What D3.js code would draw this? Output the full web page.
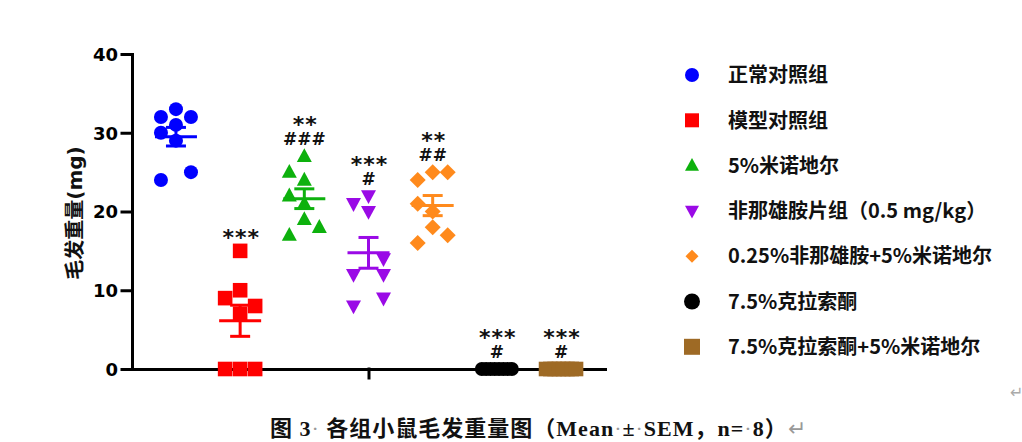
<!DOCTYPE html>
<html>
<head>
<meta charset="utf-8">
<script src="https://cdn.jsdelivr.net/npm/d3@7"></script>
<style>
  body { margin: 0; background: #fff; }
  svg { display: block; }
</style>
</head>
<body>
<div id="chart"></div>
<script>
// groups and hair weight of each mouse (mg)
var groups = ['正常对照组', '模型对照组', '5%米诺地尔', '非那雄胺片组（0.5 mg/kg）',
              '0.25%非那雄胺+5%米诺地尔', '7.5%克拉索酮', '7.5%克拉索酮+5%米诺地尔'];
var normalValues = [32, 33, 32, 31, 30, 29, 24, 25];
var modelValues = [15, 10, 9, 8, 7, 0, 0, 0];
var minoxidilValues = [27, 25, 24, 22, 21, 19, 18, 17];
var finasterideValues = [22, 21, 20, 14, 12, 12, 9, 8];
var comboValues = [25, 25, 24, 21, 20, 18, 17, 16];
var clascoteroneValues = [0, 0, 0, 0, 0, 0, 0, 0];
var clascoteroneMinoxValues = [0, 0, 0, 0, 0, 0, 0, 0];
var starLabels = ['', '***', '**', '***', '**', '***', '***'];
var hashLabels = ['', '', '###', '#', '##', '#', '#'];
var yTicks = [0, 10, 20, 30, 40];

var values = [normalValues, modelValues, minoxidilValues, finasterideValues,
              comboValues, clascoteroneValues, clascoteroneMinoxValues];

// look of each group
var colors = ['#0000ff', '#ff0000', '#0db10d', '#9a0ae6', '#ff8a1c', '#000000', '#9e6a25'];
var shapes = ['circle', 'square', 'up', 'down', 'diamond', 'circle', 'square'];
var spread8 = d3.range(8).map(function(i) { return -1 + 2 * i / 7; });
var columns = [
    [-1, 0, 1, 0, -1, 0, -1, 1],
    [0, 0, -1, 1, 0, -1, 0, 1],
    [0, -1, 0, -1, 0, 0, 1, -1],
    [0, -1, 0, 1, -1, 1, 1, -1],
    [0, 1, -1, -1, 0, 0, 1, -1],
    spread8,
    spread8
];

function shapePath(shape, s) {
    if(shape == 'circle') {
        return 'M' + s + ',0A' + s + ',' + s + ' 0 1,1 ' + (-s) + ',0A' + s + ',' + s + ' 0 1,1 ' + s + ',0Z';
    }
    if(shape == 'square') {
        return 'M' + (-s) + ',' + (-s) + 'H' + s + 'V' + s + 'H' + (-s) + 'Z';
    }
    if(shape == 'up') {
        return 'M0,' + (-s * 1.1) + 'L' + s + ',' + (s * 0.75) + 'L' + (-s) + ',' + (s * 0.75) + 'Z';
    }
    if(shape == 'down') {
        return 'M' + (-s) + ',' + (-s * 0.75) + 'L' + s + ',' + (-s * 0.75) + 'L0,' + (s * 1.1) + 'Z';
    }
    return 'M0,' + (-s) + 'L' + s + ',0L0,' + s + 'L' + (-s) + ',0Z';
}
var markSize = {circle: 7, square: 7.3, up: 7.5, down: 7.5, diamond: 8};

var width = 1022, height = 442;
var cjk = '"Noto Sans CJK SC", sans-serif';
var latin = '"DejaVu Sans", "Noto Sans CJK SC", sans-serif';

var svg = d3.select('#chart')
  .append('svg')
    .attr('width', width)
    .attr('height', height)
    .style('background', '#fff');

var x = d3.scalePoint()
    .domain(groups)
    .range([132, 605])
    .padding(0.685);

var y = d3.scaleLinear()
    .domain([0, 40])
    .range([369, 54]);

// axes
var yAxis = svg.append('g')
    .attr('transform', 'translate(132,0)')
    .call(d3.axisLeft(y).tickValues(yTicks).tickSize(10).tickSizeOuter(0).tickPadding(4));
yAxis.attr('font-family', latin).attr('font-size', 18).attr('font-weight', 'bold');
yAxis.selectAll('text').attr('fill', '#000').attr('dy', '0.36em');

var xAxis = svg.append('g')
    .attr('transform', 'translate(0,369)')
    .call(d3.axisBottom(x).tickValues([groups[3]]).tickFormat('').tickSize(9).tickSizeOuter(0));

svg.selectAll('.domain, .tick line')
    .attr('stroke', '#000')
    .attr('stroke-width', 3)
    .attr('stroke-linecap', 'square');

svg.append('text')
    .attr('transform', 'translate(82,213) rotate(-90)')
    .attr('text-anchor', 'middle')
    .attr('font-family', latin)
    .attr('font-weight', 'bold')
    .attr('font-size', 20)
    .attr('fill', '#111')
    .text('毛发重量(mg)');

// points
groups.forEach(function(g, i) {
    svg.append('g')
      .selectAll('path')
      .data(values[i])
      .enter()
      .append('path')
        .attr('transform', function(d, j) {
            return 'translate(' + (x(g) + columns[i][j] * 15) + ',' + y(d) + ')';
        })
        .attr('d', shapePath(shapes[i], markSize[shapes[i]]))
        .attr('fill', colors[i]);
});

// mean and SEM
groups.forEach(function(g, i) {
    var m = d3.mean(values[i]);
    var sem = d3.deviation(values[i]) / Math.sqrt(values[i].length);
    var cx = x(g);
    var bar = svg.append('g')
        .attr('stroke', colors[i])
        .attr('stroke-width', 3);
    bar.append('line')
        .attr('x1', cx - 21).attr('x2', cx + 21)
        .attr('y1', y(m)).attr('y2', y(m));
    bar.append('line')
        .attr('x1', cx).attr('x2', cx)
        .attr('y1', y(m - sem)).attr('y2', y(m + sem));
    [m - sem, m + sem].forEach(function(v) {
        bar.append('line')
            .attr('x1', cx - 10).attr('x2', cx + 10)
            .attr('y1', y(v)).attr('y2', y(v));
    });
});

// significance marks
groups.forEach(function(g, i) {
    var base = y(d3.max(values[i])) - 11;
    if(hashLabels[i]) {
        svg.append('text')
            .attr('x', x(g)).attr('y', base)
            .attr('text-anchor', 'middle')
            .attr('font-family', latin)
            .attr('font-size', 17)
            .attr('font-weight', 'bold')
            .attr('fill', '#111')
            .text(hashLabels[i]);
        base -= 13;
    } else {
        base += 5;
    }
    if(starLabels[i]) {
        svg.append('text')
            .attr('x', x(g) + 1).attr('y', base)
            .attr('text-anchor', 'middle')
            .attr('font-family', latin)
            .attr('font-size', 22)
            .attr('font-weight', 'bold')
            .attr('letter-spacing', 1)
            .attr('fill', '#111')
            .text(starLabels[i]);
    }
});

// legend
var legend = svg.append('g')
    .selectAll('g')
    .data(groups)
    .enter()
    .append('g')
      .attr('transform', function(d, i) { return 'translate(692,' + (75 + i * 45.3) + ')'; });

legend.append('path')
    .attr('d', function(d, i) {
        var s = i >= 5 ? 8 : (shapes[i] == 'diamond' ? 6.5 : 7);
        return shapePath(shapes[i], s);
    })
    .attr('fill', function(d, i) { return colors[i]; });

legend.append('text')
    .attr('x', 36)
    .attr('dy', '0.36em')
    .attr('font-family', cjk)
    .attr('font-weight', 'bold')
    .attr('font-size', 20)
    .attr('fill', '#111')
    .text(function(d) { return d; });

// caption below the figure
var caption = svg.append('text')
    .attr('x', 270)
    .attr('y', 436)
    .attr('font-family', '"Liberation Serif", "Noto Sans CJK SC", serif')
    .attr('font-size', 22)
    .attr('font-weight', 'bold')
    .attr('letter-spacing', 1)
    .attr('fill', '#111');

var parts = [
    ['图 ', 'text'], ['3', 'text'], ['·', 'mark'], [' 各组小鼠毛发重量图（', 'text'],
    ['Mean', 'text'], ['·', 'mark'], ['±', 'text'], ['·', 'mark'], ['SEM', 'text'],
    ['，', 'text'], ['n=', 'text'], ['·', 'mark'], ['8', 'text'], ['）', 'text'], ['↵', 'mark']
];
parts.forEach(function(p) {
    caption.append('tspan')
        .attr('font-weight', p[1] == 'mark' ? 'normal' : 'bold')
        .attr('fill', p[1] == 'mark' ? '#999' : '#111')
        .text(p[0]);
});

svg.append('text')
    .attr('x', 1010)
    .attr('y', 398)
    .attr('font-family', latin)
    .attr('font-size', 16)
    .attr('fill', '#aaa')
    .text('↵');
</script>
</body>
</html>
